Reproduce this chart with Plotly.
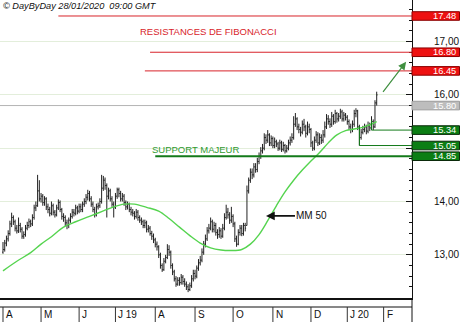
import plotly.graph_objects as go

# ---------------- data ----------------
opens = [13.05,13.10,13.22,13.30,13.40,13.58,13.70,13.62,13.50,13.45,
         13.55,13.48,13.35,13.38,13.50,13.55,13.62,13.58,13.70,13.88,
         13.92,14.20,14.05,14.10,13.98,14.05,13.90,13.85,13.78,13.92,
         13.80,13.75,13.88,13.98,13.85,13.72,13.70,13.60,13.55,13.65,
         13.72,13.80,13.78,13.88,13.82,13.90,13.85,13.95,14.00,14.08,
         14.15,14.05,13.95,13.85,13.75,13.90,13.92,14.00,14.25,14.40,
         14.30,14.10,14.20,14.05,13.95,13.90,14.10,14.22,14.15,14.05,
         14.10,13.98,13.90,13.95,13.85,13.80,13.78,13.72,13.80,13.70,
         13.65,13.62,13.55,13.60,13.48,13.50,13.40,13.35,13.28,13.20,
         13.15,13.00,12.80,12.72,12.88,12.95,13.10,13.05,12.80,12.68,
         12.55,12.45,12.52,12.48,12.58,12.50,12.45,12.40,12.35,12.42,
         12.55,12.65,12.60,12.75,12.85,12.90,13.05,13.20,13.30,13.45,
         13.50,13.62,13.48,13.55,13.42,13.38,13.45,13.35,13.50,13.70,
         13.80,13.75,13.65,13.72,13.58,13.30,13.20,13.42,13.50,13.40,
         13.55,13.55,14.20,14.40,14.55,14.50,14.65,14.60,14.75,14.85,
         14.95,15.00,15.20,15.15,15.25,15.10,15.18,15.05,15.12,15.08,
         15.00,15.10,14.98,15.05,14.95,15.00,15.10,15.15,15.20,15.45,
         15.55,15.40,15.35,15.30,15.45,15.40,15.28,15.40,15.35,15.10,
         15.00,15.15,15.25,15.10,15.20,15.15,15.25,15.40,15.55,15.50,
         15.45,15.60,15.50,15.65,15.55,15.60,15.68,15.55,15.62,15.58,
         15.50,15.40,15.35,15.45,15.65,15.70,15.40,15.20,15.30,15.35,
         15.40,15.32,15.42,15.38,15.50,15.40,15.85]
highs = [13.24,13.28,13.36,13.46,13.64,13.79,13.74,13.66,13.56,13.70,
         13.60,13.52,13.44,13.56,13.62,13.68,13.66,13.76,13.94,14.00,
         14.50,14.40,14.16,14.14,14.10,14.08,13.96,13.90,14.00,13.96,
         13.84,13.94,14.04,14.02,13.88,13.78,13.74,13.66,13.70,13.78,
         13.86,13.86,13.94,13.92,13.96,13.96,14.00,14.06,14.14,14.22,
         14.20,14.10,14.00,13.90,13.96,13.98,14.06,14.50,14.48,14.45,
         14.34,14.26,14.24,14.10,14.00,14.16,14.26,14.26,14.20,14.16,
         14.14,14.02,14.00,13.98,13.90,13.86,13.82,13.86,13.84,13.74,
         13.70,13.66,13.66,13.64,13.56,13.54,13.45,13.40,13.32,13.25,
         13.18,13.04,12.84,12.94,13.00,13.20,13.18,13.08,12.84,12.72,
         12.60,12.58,12.58,12.64,12.62,12.56,12.50,12.45,12.48,12.62,
         12.72,12.72,12.80,12.92,12.98,13.12,13.26,13.38,13.52,13.58,
         13.70,13.66,13.62,13.60,13.48,13.52,13.50,13.58,13.78,13.94,
         13.88,13.80,13.90,13.76,13.62,13.36,13.48,13.56,13.56,13.60,
         13.60,14.30,14.45,14.62,14.62,14.72,14.72,14.82,14.92,15.02,
         15.08,15.28,15.26,15.34,15.28,15.24,15.22,15.20,15.16,15.12,
         15.16,15.14,15.12,15.08,15.06,15.16,15.22,15.28,15.60,15.66,
         15.58,15.46,15.40,15.52,15.55,15.44,15.50,15.46,15.38,15.14,
         15.22,15.32,15.30,15.28,15.26,15.34,15.50,15.64,15.62,15.56,
         15.68,15.64,15.72,15.68,15.66,15.74,15.72,15.68,15.66,15.62,
         15.54,15.46,15.52,15.72,15.75,15.72,15.44,15.36,15.42,15.46,
         15.44,15.50,15.48,15.60,15.54,15.90,16.06]
lows = [13.02,13.06,13.16,13.25,13.36,13.52,13.56,13.44,13.40,13.41,
        13.42,13.30,13.30,13.34,13.46,13.50,13.52,13.54,13.66,13.82,
        13.90,14.00,13.98,13.92,13.92,13.84,13.78,13.72,13.74,13.74,
        13.70,13.72,13.84,13.80,13.66,13.62,13.54,13.48,13.50,13.60,
        13.68,13.72,13.74,13.76,13.78,13.80,13.80,13.90,13.95,14.02,
        14.00,13.90,13.80,13.70,13.72,13.85,13.88,13.96,14.20,14.22,
        13.70,14.04,14.00,13.90,13.70,13.86,14.05,14.08,14.00,14.00,
        13.92,13.84,13.85,13.80,13.74,13.72,13.66,13.68,13.64,13.60,
        13.56,13.50,13.50,13.42,13.42,13.36,13.28,13.22,13.14,13.08,
        12.94,12.74,12.68,12.70,12.84,12.92,12.98,12.74,12.62,12.50,
        12.40,12.42,12.42,12.44,12.44,12.40,12.34,12.30,12.32,12.38,
        12.50,12.54,12.56,12.70,12.80,12.86,13.00,13.14,13.26,13.40,
        13.46,13.42,13.42,13.36,13.30,13.32,13.30,13.32,13.46,13.66,
        13.68,13.58,13.60,13.52,13.24,13.15,13.18,13.36,13.35,13.36,
        13.44,13.55,14.15,14.35,14.42,14.45,14.54,14.55,14.70,14.80,
        14.90,14.96,15.08,15.10,15.04,15.04,15.00,15.00,15.02,14.95,
        14.96,14.93,14.94,14.90,14.92,14.96,15.05,15.10,15.16,15.40,
        15.34,15.28,15.22,15.26,15.32,15.20,15.24,15.28,15.02,14.95,
        14.96,15.10,15.04,15.06,15.08,15.10,15.20,15.36,15.44,15.38,
        15.40,15.44,15.46,15.48,15.50,15.55,15.50,15.50,15.52,15.44,
        15.34,15.28,15.30,15.40,15.58,15.34,15.05,15.16,15.26,15.30,
        15.26,15.28,15.32,15.34,15.34,15.38,15.80]
closes = [13.10,13.22,13.30,13.40,13.58,13.70,13.62,13.50,13.45,13.55,
          13.48,13.35,13.38,13.50,13.55,13.62,13.58,13.70,13.88,13.92,
          14.20,14.05,14.10,13.98,14.05,13.90,13.85,13.78,13.92,13.80,
          13.75,13.88,13.98,13.85,13.72,13.70,13.60,13.55,13.65,13.72,
          13.80,13.78,13.88,13.82,13.90,13.85,13.95,14.00,14.08,14.15,
          14.05,13.95,13.85,13.75,13.90,13.92,14.00,14.25,14.40,14.30,
          14.10,14.20,14.05,13.95,13.90,14.10,14.22,14.15,14.05,14.10,
          13.98,13.90,13.95,13.85,13.80,13.78,13.72,13.80,13.70,13.65,
          13.62,13.55,13.60,13.48,13.50,13.40,13.35,13.28,13.20,13.15,
          13.00,12.80,12.72,12.88,12.95,13.10,13.05,12.80,12.68,12.55,
          12.45,12.52,12.48,12.58,12.50,12.45,12.40,12.35,12.42,12.55,
          12.65,12.60,12.75,12.85,12.90,13.05,13.20,13.30,13.45,13.50,
          13.62,13.48,13.55,13.42,13.38,13.45,13.35,13.50,13.70,13.80,
          13.75,13.65,13.72,13.58,13.30,13.20,13.42,13.50,13.40,13.55,
          13.50,14.20,14.40,14.55,14.50,14.65,14.60,14.75,14.85,14.95,
          15.00,15.20,15.15,15.25,15.10,15.18,15.05,15.12,15.08,15.00,
          15.10,14.98,15.05,14.95,15.00,15.10,15.15,15.20,15.45,15.55,
          15.40,15.35,15.30,15.45,15.40,15.28,15.40,15.35,15.10,15.00,
          15.15,15.25,15.10,15.20,15.15,15.25,15.40,15.55,15.50,15.45,
          15.60,15.50,15.65,15.55,15.60,15.68,15.55,15.62,15.58,15.50,
          15.40,15.35,15.45,15.65,15.70,15.40,15.20,15.30,15.35,15.40,
          15.32,15.42,15.38,15.50,15.40,15.85,16.00]
bar_idx = list(range(len(closes)))

# 50-day moving average
ma_idx = [0, 8, 16, 22, 28, 35, 42, 50, 57, 64, 70, 76, 83, 90, 96, 102, 108, 114,
          120, 126, 132, 138, 143, 148, 153, 158, 163, 168, 173, 178, 183, 188,
          193, 198, 203, 208, 212, 216]
ma_vals = [12.70, 12.88, 13.04, 13.20, 13.34, 13.52, 13.62, 13.72, 13.81, 13.90,
           13.95, 13.95, 13.89, 13.82, 13.68, 13.52, 13.36, 13.22, 13.13, 13.09,
           13.08, 13.10, 13.20, 13.38, 13.64, 13.92, 14.18, 14.40, 14.59, 14.76,
           14.92, 15.10, 15.25, 15.33, 15.36, 15.39, 15.44, 15.50]

month_idx = [0, 22, 44, 65, 88, 111, 133, 156, 178, 199, 220]
month_labels = ['A', 'M', 'J', 'J 19', 'A', 'S', 'O', 'N', 'D', 'J 20', 'F']

level_vals = [17.48, 16.80, 16.45, 15.80, 15.34, 15.05, 14.85]
level_text = ['17.48', '16.80', '16.45', '15.80', '15.34', '15.05', '14.85']
level_start = [32, 85, 82, -2, 213, 206, 88]
level_step_top = [None, None, None, None, 15.52, 15.41, None]
level_line_color = ['#d8232a', '#d8232a', '#d8232a', '#b4b4b4', '#137a1a', '#137a1a', '#137a1a']
level_line_width = [1, 1, 1, 1, 1, 1, 2]
level_box_color = ['#ee1111', '#ee1111', '#ee1111', '#bdbdbd', '#0c7e14', '#0c7e14', '#0c7e14']
level_box_edge = ['#8a0000', '#8a0000', '#8a0000', '#9a9a9a', '#0a2a0a', '#0a2a0a', '#0a2a0a']

ytick_vals = [13, 14, 15, 16, 17]
ytick_text = ['13,00', '14,00', '', '16,00', '17,00']

# ---------------- layout geometry ----------------
W, H = 460, 322
ML, MR, MT, MB = 0, 48, 0, 24
PW, PH = W - ML - MR, H - MT - MB
Y_RANGE = [12.19, 17.78]
X_RANGE = [-1.73, 236.4]
px_per_unit = PH / (Y_RANGE[1] - Y_RANGE[0])

fig = go.Figure()

fig.add_trace(go.Ohlc(
    x=bar_idx, open=opens, high=highs, low=lows, close=closes,
    increasing=dict(line=dict(color='#222222', width=1)),
    decreasing=dict(line=dict(color='#222222', width=1)),
    tickwidth=0.5, hoverinfo='skip', showlegend=False))

fig.add_trace(go.Scatter(
    x=ma_idx, y=ma_vals, mode='lines', line=dict(color='#55d44f', width=1.4, shape='spline'),
    hoverinfo='skip', showlegend=False))

shapes = []
annotations = []

# level lines, steps and price boxes
half_box = 4.3 / px_per_unit
for v, t, s, st, lc, lw, bc, be in zip(level_vals, level_text, level_start, level_step_top,
                                       level_line_color, level_line_width,
                                       level_box_color, level_box_edge):
    shapes.append(dict(type='line', xref='x', yref='y', x0=s, x1=X_RANGE[1], y0=v, y1=v,
                       line=dict(color=lc, width=lw),
                       layer='below' if t == '15.80' else 'above'))
    if st is not None:
        shapes.append(dict(type='line', xref='x', yref='y', x0=s, x1=s, y0=st, y1=v,
                           line=dict(color=lc, width=lw)))
    shapes.append(dict(type='rect', xref='paper', yref='y', x0=1.0, x1=1.0 + 47.5 / PW,
                       y0=v - half_box, y1=v + half_box, fillcolor=bc,
                       line=dict(color=be, width=1), layer='above'))
    annotations.append(dict(xref='paper', yref='y', x=1.0 + 46 / PW, y=v, text=t,
                            showarrow=False, xanchor='right', yanchor='middle',
                            font=dict(family='Liberation Sans, Arial', size=9.3, color='white')))

# bottom band: separator line, month ticks and labels
y_sep = -9 / PH
y_bot = -MB / PH
shapes.append(dict(type='line', xref='paper', yref='paper', x0=0, x1=1, y0=y_sep, y1=y_sep,
                   line=dict(color='#111', width=1)))
shapes.append(dict(type='line', xref='paper', yref='paper', x0=1, x1=1, y0=y_bot, y1=0,
                   line=dict(color='#111', width=1)))
for mi, ml in zip(month_idx, month_labels):
    shapes.append(dict(type='line', xref='x', yref='paper', x0=mi, x1=mi, y0=y_sep, y1=y_bot,
                       line=dict(color='#333', width=1)))
    annotations.append(dict(xref='x', yref='paper', x=mi, y=-16.5 / PH, text=ml,
                            showarrow=False, xanchor='left', yanchor='middle', xshift=1,
                            font=dict(family='Liberation Sans, Arial', size=10, color='#111')))

# header
annotations.append(dict(xref='paper', yref='paper', x=0, y=1, xanchor='left', yanchor='top',
                        xshift=1, yshift=1, showarrow=False,
                        text='<i>© DayByDay 28/01/2020  09:00 GMT</i>',
                        font=dict(family='Liberation Sans, Arial', size=9.2, color='#111')))

# text labels
annotations.append(dict(xref='x', yref='y', x=118.5, y=17.18, text='RESISTANCES DE FIBONACCI',
                        showarrow=False, xanchor='center', yanchor='middle',
                        font=dict(family='Liberation Sans, Arial', size=9.5, color='#d8232a')))
annotations.append(dict(xref='x', yref='y', x=85, y=14.985, text='SUPPORT MAJEUR',
                        showarrow=False, xanchor='left', yanchor='middle',
                        font=dict(family='Liberation Sans, Arial', size=9.5, color='#2f9a2f')))

# MM 50 pointer
annotations.append(dict(xref='x', yref='y', x=152, y=13.73, text='MM 50',
                        showarrow=True, ax=46, ay=0, arrowhead=2, arrowsize=1.1,
                        arrowwidth=1.6, arrowcolor='#111', standoff=0,
                        font=dict(family='Liberation Sans, Arial', size=10, color='#111')))

# green projection arrow
annotations.append(dict(xref='x', yref='y', x=233, y=16.62, axref='x', ayref='y',
                        ax=219, ay=16.03, text='', showarrow=True, arrowhead=2,
                        arrowsize=1.3, arrowwidth=1.2, arrowcolor='#3f8f3f'))

fig.update_layout(
    width=W, height=H, autosize=False,
    margin=dict(l=ML, r=MR, t=MT, b=MB, pad=0),
    paper_bgcolor='white', plot_bgcolor='white',
    separators=',.',
    shapes=shapes, annotations=annotations,
    showlegend=False,
    font=dict(family='Liberation Sans, Arial', size=10, color='#111'),
    xaxis=dict(range=X_RANGE, showgrid=False, zeroline=False, showticklabels=False,
               ticks='', showline=True, linecolor='#111', linewidth=2,
               rangeslider=dict(visible=False), fixedrange=True),
    yaxis=dict(range=Y_RANGE, side='right', tickvals=ytick_vals, ticktext=ytick_text,
               showgrid=True, gridcolor='#e3eedb', gridwidth=1, zeroline=False,
               showline=True, linecolor='#111', linewidth=1,
               ticks='inside', ticklen=6, tickcolor='#111',
               ticklabelstandoff=19,
               tickfont=dict(family='Liberation Sans, Arial', size=10, color='#111'),
               minor=dict(dtick=0.2, ticks='inside', ticklen=3, tickcolor='#111', showgrid=False),
               fixedrange=True),
)

fig.write_html('out.html')
